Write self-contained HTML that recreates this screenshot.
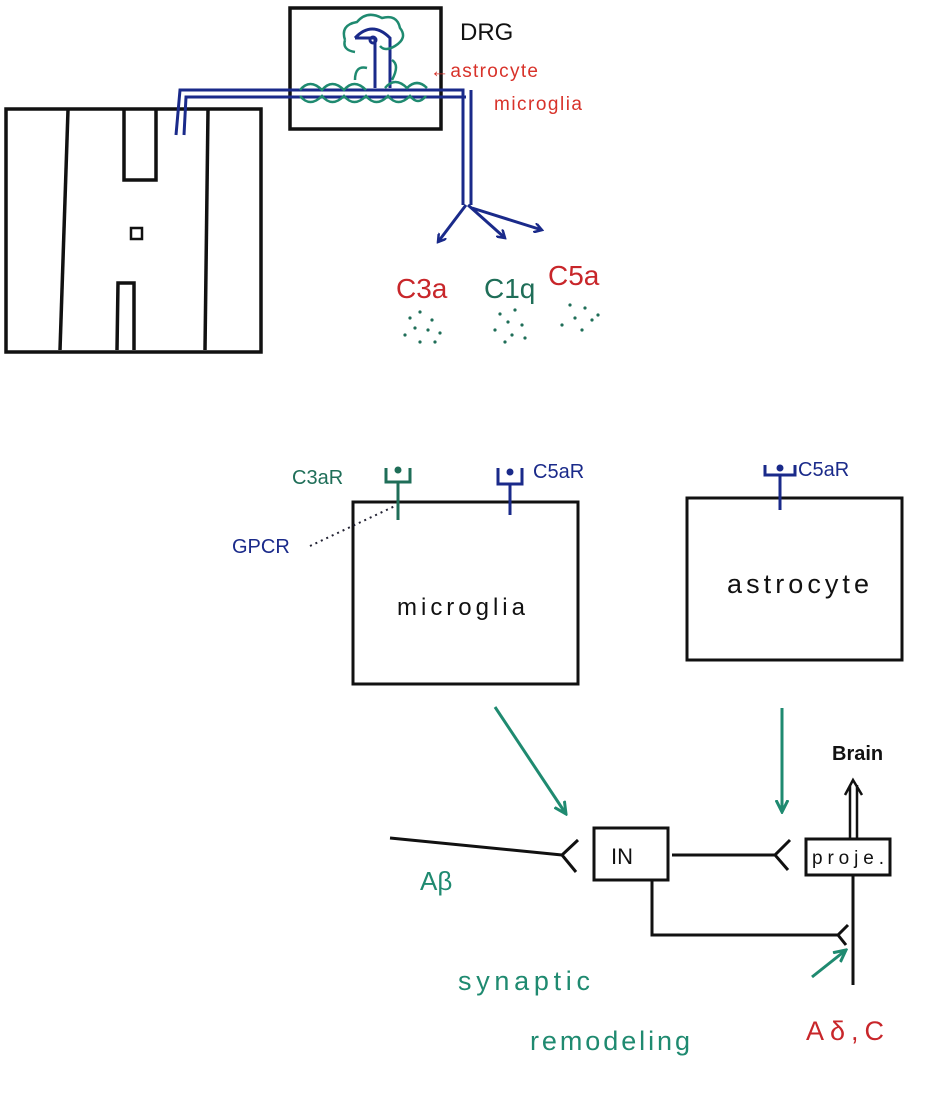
<!DOCTYPE html>
<html><head><meta charset="utf-8"><style>
html,body{margin:0;padding:0;background:#fff;}
svg{display:block;}
text{font-family:"Liberation Sans",sans-serif;}
</style></head><body>
<svg width="936" height="1107" viewBox="0 0 936 1107" xmlns="http://www.w3.org/2000/svg">
<defs>
<marker id="ab" markerWidth="10" markerHeight="10" refX="8" refY="5" orient="auto" markerUnits="userSpaceOnUse"><path d="M0,0 L8,5 L0,10" fill="none" stroke="#1a2a8a" stroke-width="2.5"/></marker>
<marker id="ag" markerWidth="14" markerHeight="14" refX="12" refY="7" orient="auto" markerUnits="userSpaceOnUse"><path d="M0,1 L12,7 L0,13" fill="none" stroke="#1f8a70" stroke-width="3"/></marker>
</defs>
<g fill="none" stroke="#111" stroke-width="3.5">
<rect x="6" y="109" width="255" height="243"/>
<line x1="68" y1="110" x2="60" y2="350"/>
<line x1="208" y1="110" x2="205" y2="350"/>
<polyline points="124,110 124,180 156,180 156,110"/>
<polyline points="117,350 118,283 134,283 134,350"/>
<rect x="131" y="228" width="11" height="11" stroke-width="2.5"/>
<rect x="290" y="8" width="151" height="121"/>
<rect x="353" y="502" width="225" height="182" stroke-width="3"/>
<rect x="687" y="498" width="215" height="162" stroke-width="3"/>
<path d="M390,838 L562,855" stroke-width="3"/>
<path d="M578,840 L562,855 L576,872" stroke-width="3"/>
<rect x="594" y="828" width="74" height="52" stroke-width="3"/>
<path d="M672,855 L775,855" stroke-width="3"/>
<path d="M790,840 L775,855 L788,870" stroke-width="3"/>
<rect x="806" y="839" width="84" height="36" stroke-width="3" fill="#fff"/>
<path d="M853,875 L853,985" stroke-width="3"/>
<path d="M850,838 L850,785 M857,838 L857,785 M845,795 L853,780 L862,795" stroke-width="2.5"/>
<polyline points="652,880 652,935 838,935" stroke-width="3"/>
<path d="M848,925 L838,935 L846,945" stroke-width="3"/>
</g>
<g fill="none" stroke="#1a2a8a" stroke-width="3">
<polyline points="176,135 180,90 463,90 463,205"/>
<polyline points="184,135 186,97 466,97"/>
<polyline points="471,90 471,205"/>
<path d="M466,205 L438,242" marker-end="url(#ab)"/>
<path d="M468,205 L505,238" marker-end="url(#ab)"/>
<path d="M472,208 L542,230" marker-end="url(#ab)"/>
<path d="M355,38 Q372,20 390,38 L390,88 M375,38 L375,88 M355,38 L375,38"/>
<circle cx="373" cy="40" r="3"/>
</g>
<g fill="none" stroke="#1f8a70" stroke-width="2.5">
<path d="M345,40 q-5,-15 12,-18 q10,-12 25,-4 q15,-4 18,10 q8,10 -5,18 q-10,6 -15,0 M345,40 q-3,10 10,12"/>
<path d="M300,90 q10,-12 22,0 q10,-12 22,0 q10,-12 22,0 M385,88 q10,-12 22,0 q10,-10 20,0 M300,96 q10,12 22,0 q10,12 22,0 q10,12 22,0 q10,12 22,0 q10,12 22,0 q8,10 16,0"/>
<path d="M355,80 q0,-15 12,-12 M392,80 q8,-15 0,-20"/>
</g>
<g fill="none" stroke-width="3">
<g stroke="#1f6e58"><path d="M386,468 L386,482 L410,482 L410,468 M398,482 L398,520"/><circle cx="398" cy="470" r="2" fill="#1f6e58"/></g>
<g stroke="#1a2a8a"><path d="M498,468 L498,484 L522,484 L522,468 M510,484 L510,515"/><circle cx="510" cy="472" r="2" fill="#1a2a8a"/></g>
<g stroke="#1a2a8a"><path d="M765,465 L765,475 L795,475 L795,465 M780,475 L780,510"/><circle cx="780" cy="468" r="2" fill="#1a2a8a"/></g>
<path d="M310,546 L395,506" stroke="#223" stroke-width="2" stroke-dasharray="2,4"/>
</g>
<g fill="none" stroke="#1f8a70" stroke-width="3">
<path d="M495,707 L566,814" marker-end="url(#ag)"/>
<path d="M782,708 L782,812" marker-end="url(#ag)"/>
<path d="M812,977 L846,950" marker-end="url(#ag)"/>
</g>
<g fill="#1f6e58">
<circle cx="410" cy="318" r="1.6"/><circle cx="420" cy="312" r="1.6"/><circle cx="432" cy="320" r="1.6"/><circle cx="415" cy="328" r="1.6"/><circle cx="428" cy="330" r="1.6"/><circle cx="405" cy="335" r="1.6"/><circle cx="440" cy="333" r="1.6"/><circle cx="420" cy="342" r="1.6"/><circle cx="435" cy="342" r="1.6"/>
<circle cx="500" cy="314" r="1.6"/><circle cx="515" cy="310" r="1.6"/><circle cx="508" cy="322" r="1.6"/><circle cx="522" cy="325" r="1.6"/><circle cx="495" cy="330" r="1.6"/><circle cx="512" cy="335" r="1.6"/><circle cx="525" cy="338" r="1.6"/><circle cx="505" cy="342" r="1.6"/>
<circle cx="570" cy="305" r="1.6"/><circle cx="585" cy="308" r="1.6"/><circle cx="575" cy="318" r="1.6"/><circle cx="592" cy="320" r="1.6"/><circle cx="562" cy="325" r="1.6"/><circle cx="582" cy="330" r="1.6"/><circle cx="598" cy="315" r="1.6"/>
</g>
<text x="460" y="40" font-size="24" fill="#111">DRG</text>
<text x="430" y="77" font-size="19" fill="#d8322a" textLength="108">←astrocyte</text>
<text x="494" y="110" font-size="19" fill="#d8322a" textLength="88">microglia</text>
<text x="396" y="298" font-size="28" fill="#c8262a">C3a</text>
<text x="484" y="298" font-size="28" fill="#1f6e58">C1q</text>
<text x="548" y="285" font-size="28" fill="#c8262a">C5a</text>
<text x="292" y="484" font-size="20" fill="#1f6e58">C3aR</text>
<text x="533" y="478" font-size="20" fill="#1a2a8a">C5aR</text>
<text x="798" y="476" font-size="20" fill="#1a2a8a">C5aR</text>
<text x="232" y="553" font-size="20" fill="#1a2a8a">GPCR</text>
<text x="397" y="615" font-size="24" fill="#111" textLength="128">microglia</text>
<text x="727" y="593" font-size="27" fill="#111" textLength="142">astrocyte</text>
<text x="832" y="760" font-size="20" font-weight="bold" fill="#111">Brain</text>
<text x="611" y="864" font-size="22" fill="#111">IN</text>
<text x="812" y="864" font-size="19" fill="#111" textLength="72">proje.</text>
<text x="420" y="890" font-size="26" fill="#1f8a70">Aβ</text>
<text x="458" y="990" font-size="27" fill="#1f8a70" textLength="132">synaptic</text>
<text x="530" y="1050" font-size="27" fill="#1f8a70" textLength="160">remodeling</text>
<text x="806" y="1040" font-size="27" fill="#c8262a" textLength="78">Aδ,C</text>
</svg>
</body></html>
